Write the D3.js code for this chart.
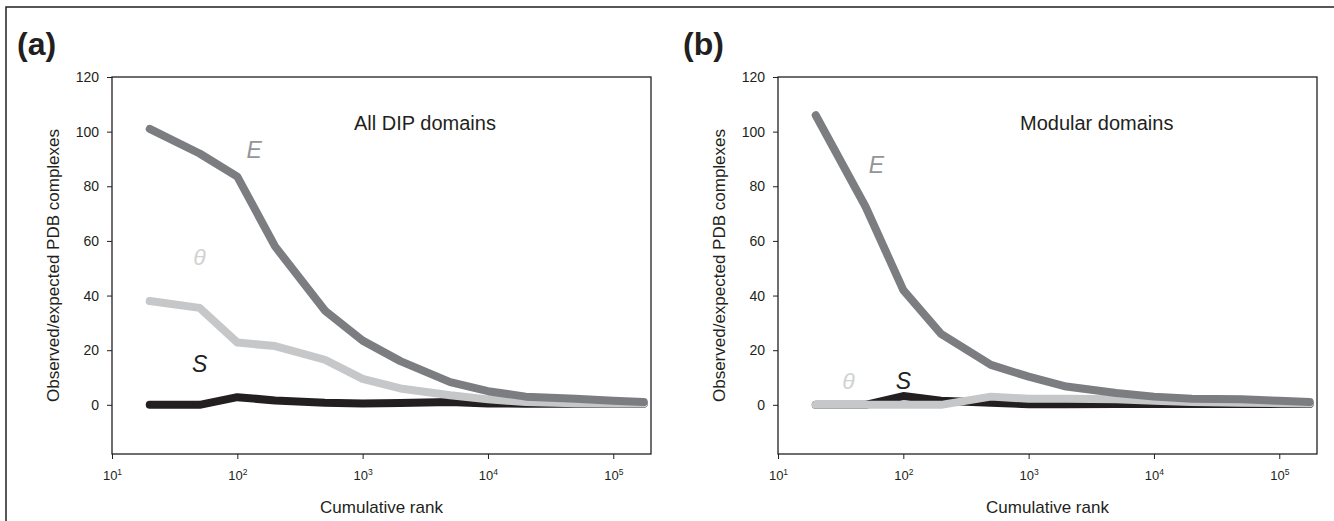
<!DOCTYPE html>
<html>
<head>
<meta charset="utf-8">
<script src="https://cdn.jsdelivr.net/npm/d3@7"></script>
<style>
  body { margin: 0; background: #fff; }
  text { font-family: "Liberation Sans", Arial, sans-serif; fill: #231f20; }
</style>
</head>
<body>
<svg id="chart" width="1334" height="521"></svg>
<script>
// cumulative rank (x) shared by both panels
var rank = [20, 50, 100, 200, 500, 1000, 2000, 5000, 10000, 20000, 50000, 100000, 175000];

// panel (a) all DIP domains
var allE     = [101, 92, 83.5, 58, 34.5, 23.5, 16, 8.3, 5, 3, 2.2, 1.5, 1];
var allTheta = [38, 35.5, 22.8, 21.5, 16.5, 9.5, 6, 3.5, 2, 1, 0.6, 0.5, 0.5];
var allS     = [0, 0, 2.8, 1.6, 0.8, 0.5, 0.7, 1, 0.5, 0.4, 0.4, 0.4, 0.4];

// panel (b) modular domains
var modE     = [106, 72.5, 42, 26, 14.6, 10.3, 6.7, 4.3, 3, 2.2, 2, 1.5, 1];
var modTheta = [0, 0, 0, 0, 3, 2.2, 2.2, 2, 1.5, 1, 0.8, 0.6, 0.5];
var modS     = [0, 0, 3.2, 1.5, 0.8, 0.2, 0.2, 0.3, 0.3, 0.3, 0.3, 0.3, 0.3];

var yTicks = [0, 20, 40, 60, 80, 100, 120];
var xTicks = [10, 100, 1000, 10000, 100000];

var colE = "#7b7d81", colTheta = "#c6c7c9", colS = "#231f20";

var panels = [
    { tag: "(a)", title: "All DIP domains", left: 112,
      series: [["S", allS, colS], ["theta", allTheta, colTheta], ["E", allE, colE]],
      notes: [["E", 136, 90.4, "#939598"], ["\u03b8", 50, 51.2, "#d0d2d3"], ["S", 50, 12.1, colS]] },
    { tag: "(b)", title: "Modular domains", left: 778,
      series: [["S", modS, colS], ["theta", modTheta, colTheta], ["E", modE, colE]],
      notes: [["E", 61, 84.9, "#939598"], ["\u03b8", 36.5, 5.9, "#d0d2d3"], ["S", 100, 5.9, colS]] }
];

var svg = d3.select("#chart");
svg.append("rect").attr("width", 1334).attr("height", 521).attr("fill", "#fff");

// outer figure border (top and left only)
svg.append("path")
    .attr("d", "M6,521V7H1334")
    .attr("fill", "none")
    .attr("stroke", "#231f20")
    .attr("stroke-width", 1.5);

var w = 539, h = 377, plotTop = 77;

var x = d3.scaleLog().domain([10, 2e5]).range([0, w]);
var y = d3.scaleLinear().domain([-18, 120]).range([h, 0]);

var line = d3.line()
    .x((d, i) => x(rank[i]))
    .y(d => y(d));

panels.forEach(function (p) {
    svg.append("text")
        .attr("x", p.left - 95)
        .attr("y", 55)
        .style("font-size", "32px")
        .style("font-weight", 700)
        .text(p.tag);

    var g = svg.append("g").attr("transform", `translate(${p.left},${plotTop})`);

    var ya = g.append("g")
        .call(d3.axisLeft(y).tickValues(yTicks).tickSize(5).tickPadding(8));
    ya.select(".domain").remove();
    ya.selectAll("line").attr("stroke", "#231f20");
    ya.selectAll("text").style("font-size", "14px").attr("fill", "#231f20");

    var xa = g.append("g")
        .attr("transform", `translate(0,${h})`)
        .call(d3.axisBottom(x).tickValues(xTicks).tickSize(5).tickPadding(10).tickFormat(""));
    xa.select(".domain").remove();
    xa.selectAll("line").attr("stroke", "#231f20");
    xa.selectAll(".tick").append("text")
        .attr("y", 26)
        .attr("text-anchor", "middle")
        .style("font-size", "13px")
        .each(function (d) {
            var t = d3.select(this);
            t.append("tspan").text("10");
            t.append("tspan")
                .attr("dy", -5)
                .style("font-size", "8.5px")
                .text(Math.round(Math.log10(d)));
        });

    g.append("rect")
        .attr("width", w).attr("height", h)
        .attr("fill", "none")
        .attr("stroke", "#231f20")
        .attr("stroke-width", 1.3);

    g.selectAll(".series")
        .data(p.series)
        .join("path")
        .attr("class", "series")
        .attr("d", d => line(d[1]))
        .attr("fill", "none")
        .attr("stroke", d => d[2])
        .attr("stroke-width", 8)
        .attr("stroke-linecap", "round")
        .attr("stroke-linejoin", "round");

    g.selectAll(".note")
        .data(p.notes)
        .join("text")
        .attr("class", "note")
        .attr("x", d => x(d[1]))
        .attr("y", d => y(d[2]))
        .attr("text-anchor", "middle")
        .style("font-size", "23px")
        .style("font-style", "italic")
        .style("fill", d => d[3])
        .text(d => d[0]);

    g.append("text")
        .attr("x", 242)
        .attr("y", 53)
        .style("font-size", "20px")
        .text(p.title);

    g.append("text")
        .attr("x", w / 2)
        .attr("y", 436)
        .attr("text-anchor", "middle")
        .style("font-size", "17px")
        .text("Cumulative rank");

    g.append("text")
        .attr("transform", `translate(-53,${h / 2}) rotate(-90)`)
        .attr("text-anchor", "middle")
        .style("font-size", "17px")
        .text("Observed/expected PDB complexes");
});
</script>
</body>
</html>
